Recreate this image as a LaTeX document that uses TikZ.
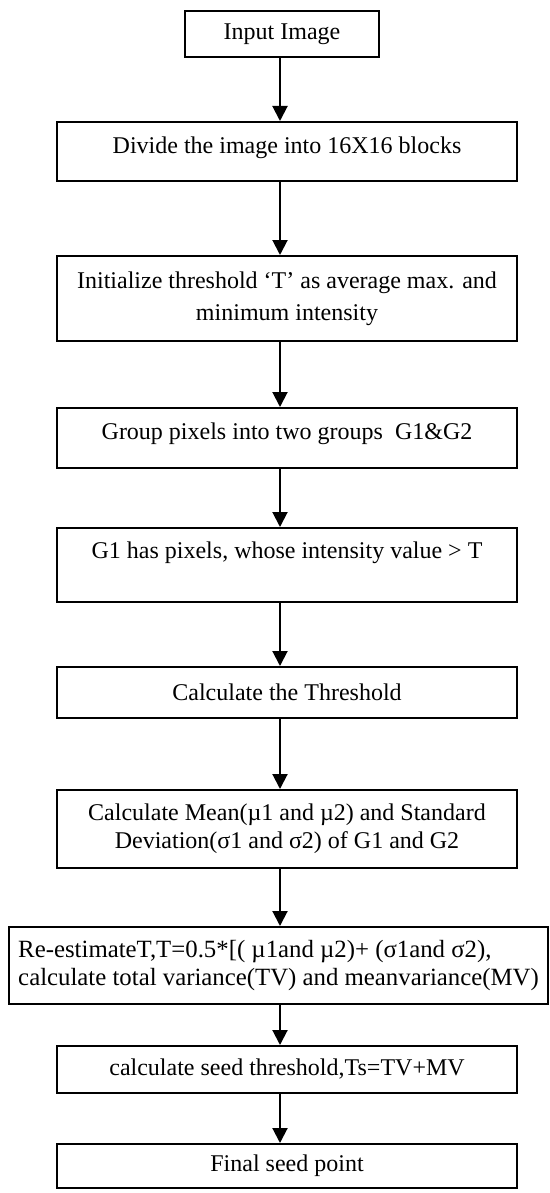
\documentclass[tikz,border=0pt]{standalone}
\usepackage{fontspec}
\setmainfont{Liberation Serif}
\usetikzlibrary{arrows.meta}
\begin{document}
\begin{tikzpicture}[x=0.5pt,y=-0.5pt,
  stepbox/.style={draw, line width=1pt, inner sep=0pt, align=center,
    font=\fontsize{12}{14}\selectfont},
  wide/.style={minimum width=230pt},
  arr/.style={line width=1pt, -{Triangle[length=7.5pt,width=7.5pt]}}]
\useasboundingbox (0,0) rectangle (550,1193);
% vertical line shared by all connectors
\coordinate (axis) at (280,0);

\node[stepbox, minimum width=97pt, minimum height=23pt] (b1) at (282,34) {Input Image};
\node[stepbox, wide, minimum height=29.5pt, text depth=6.5pt] (b2) at (287,151.5) {Divide the image into 16X16 blocks};
\node[stepbox, wide, minimum height=42.5pt] (b3) at (287,298.5) {Initialize threshold ‘T’ as average max. and\\[2pt] minimum intensity};
\node[stepbox, wide, minimum height=30pt, text depth=7pt] (b4) at (287,438) {Group pixels into two groups\ \ G1\&G2};
\node[stepbox, wide, minimum height=37pt, text depth=15pt] (b5) at (287,565) {G1 has pixels, whose intensity value > T};
\node[stepbox, wide, minimum height=25.5pt] (b6) at (287,692.5) {Calculate the Threshold};
\node[stepbox, wide, minimum height=39pt] (b7) at (287,829) {Calculate Mean(µ1 and µ2) and Standard\\ Deviation(σ1 and σ2) of G1 and G2};
\node[stepbox, align=left, minimum width=269.5pt, minimum height=38.5pt,
  font=\fontsize{12.4}{14}\selectfont] (b8) at (278.5,965.5) {Re-estimateT,T=0.5*[( µ1and µ2)+ (σ1and σ2),\\ calculate total variance(TV) and meanvariance(MV)};
\node[stepbox, wide, minimum height=23.5pt] (b9) at (287,1069.5) {calculate seed threshold,Ts=TV+MV};
\node[stepbox, wide, minimum height=22pt] (b10) at (287,1166) {Final seed point};

\foreach \a/\b in {b1/b2, b2/b3, b3/b4, b4/b5, b5/b6, b6/b7, b7/b8, b8/b9, b9/b10}
  \draw[arr] (\a.south -| axis) -- (\b.north -| axis);
\end{tikzpicture}
\end{document}
